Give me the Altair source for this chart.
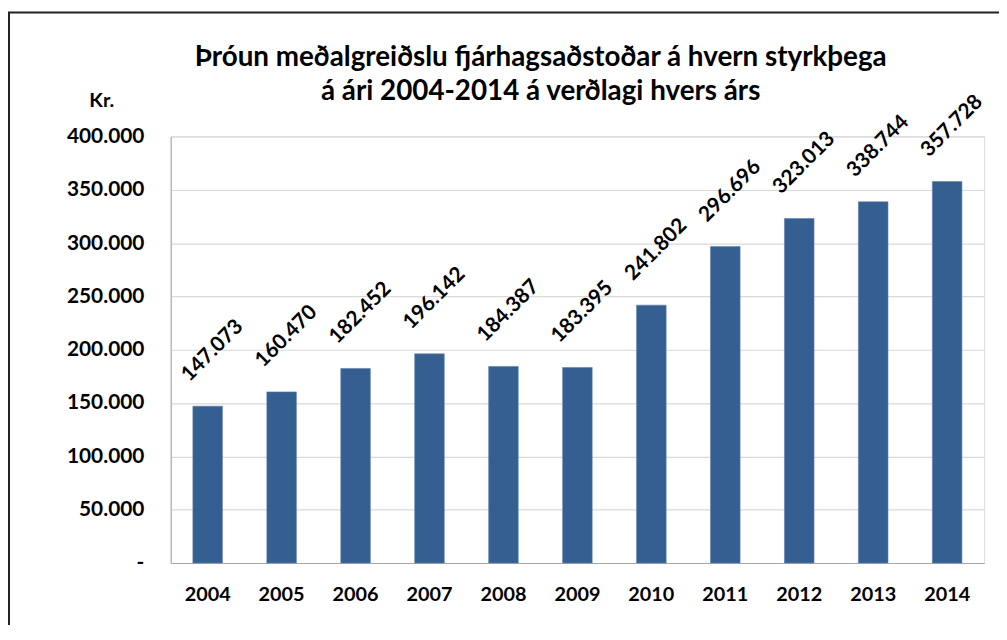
import altair as alt
import pandas as pd

years = ["2004", "2005", "2006", "2007", "2008", "2009", "2010", "2011", "2012", "2013", "2014"]
values = [147073, 160470, 182452, 196142, 184387, 183395, 241802, 296696, 323013, 338744, 357728]

title_lines = ["Þróun meðalgreiðslu fjárhagsaðstoðar á hvern styrkþega",
               "á ári  2004-2014 á verðlagi hvers árs"]
y_unit = "Kr."
y_ticks = [0, 50000, 100000, 150000, 200000, 250000, 300000, 350000, 400000]

df = pd.DataFrame({"year": years, "value": values})

FONT = "Lato"
BAR = "#365F91"
W, H = 820, 430
PL, PT = 164, 127

x_enc = alt.X("year:N", sort=years,
              scale=alt.Scale(paddingInner=0.6, paddingOuter=0.3),
              axis=alt.Axis(title=None, labelAngle=0, ticks=False, domain=True,
                            domainColor="#a6a6a6", labelFont=FONT, labelFontSize=20,
                            labelFontWeight="bold", labelColor="#000", labelPadding=22,
                            labelBaseline="top"))
y_enc = alt.Y("value:Q", scale=alt.Scale(domain=[0, 400000], nice=False),
              axis=alt.Axis(values=y_ticks, title=y_unit, titleAngle=0, titleX=-70, titleY=-26,
                            titleAlign="center", titleFont=FONT, titleFontSize=20,
                            titleFontWeight="bold", titleColor="#000",
                            labelExpr="datum.value == 0 ? '-' : replace(format(datum.value, ','), ',', '.')",
                            labelFont=FONT, labelFontSize=21, labelFontWeight="bold",
                            labelColor="#000", labelPadding=27, ticks=False,
                            domainColor="#a6a6a6", gridColor="#d9d9d9", gridWidth=1.2))

bars = alt.Chart(df).mark_bar(color=BAR, stroke="#5b7fb0", strokeWidth=0.6).encode(x=x_enc, y=y_enc)

labels = alt.Chart(df).transform_calculate(
    lab="replace(format(datum.value, ','), ',', '.')"
).mark_text(angle=315, align="center", baseline="middle", dx=43, dy=-36,
            font=FONT, fontSize=21, fontWeight="bold", color="#000").encode(
    x=alt.X("year:N", sort=years), y="value:Q", text="lab:N")

one = pd.DataFrame({"k": [0]})
title = alt.Chart(one).mark_text(align="center", baseline="alphabetic", lineHeight=34,
                                 font=FONT, fontSize=28, fontWeight="bold", color="#000").encode(
    x=alt.value(545 - 8 - PL), y=alt.value(64 - 8 - PT), text=alt.value(title_lines))

frame = alt.Chart(one).mark_rect(fill=None, stroke="#222", strokeWidth=2).encode(
    x=alt.value(1 - PL), x2=alt.value(1100), y=alt.value(10 - 8 - PT), y2=alt.value(800))

chart = alt.layer(bars, labels, title, frame).properties(
    width=W, height=H,
    padding={"left": PL, "top": PT, "right": 15, "bottom": 60},
    autosize=alt.AutoSizeParams(type="none"),
).configure_view(stroke=None).configure(background="white")

chart.save("out.html", embed_options={"renderer": "svg", "actions": False})
